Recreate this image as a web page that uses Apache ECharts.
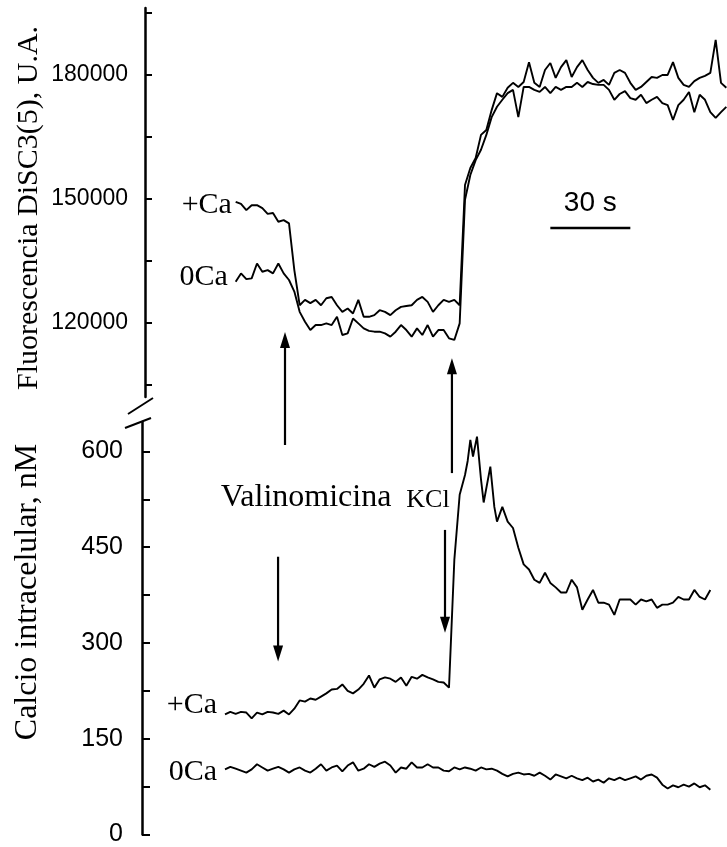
<!DOCTYPE html>
<html><head><meta charset="utf-8">
<script src="https://cdn.jsdelivr.net/npm/echarts@6/dist/echarts.min.js"></script>
<style>html,body{margin:0;padding:0;background:#fff}#c{width:727px;height:847px}</style>
</head><body><div id="c"></div>
<script>
// ---------- DATA ----------
// time (s) for top panel traces
const timeTop = [34,36,38,40,42,44,46,48,50,52,54,56,58,60,62,64,66,68,70,72,74,76,78,80,82,84,86,88,90,92,94,96,98,100,102,104,106,108,110,112,114,116,118,120,122,124,126,128,130,132,134,136,138,140,142,144,146,148,150,152,154,156,158,160,162,164,166,168,170,172,174,176,178,180,182,184,186,188,190,192,194,196,198,200,202,204,206,208,210,212,214,216,218];
// Fluorescencia DiSC3(5), U.A.
const fluoCa = [149300,148800,147300,148500,148500,147800,146400,146600,144500,144900,144100,
 132800,124300,125600,124800,125600,124300,126000,126300,124300,122700,123500,122300,125600,121500,121500,121900,123100,122700,121900,123100,123900,124100,124300,125600,126300,125100,122700,124300,125600,125100,125600,124300,
 153400,157500,159900,165500,166700,171500,175600,174700,176900,178100,177100,178300,183100,178100,177100,181200,182900,179300,181900,183600,179500,181900,183600,181200,179300,178100,178800,177600,180500,181200,180500,178100,176400,177100,178300,179500,179300,180000,180000,183100,179300,177600,177100,178500,179300,179800,180500,188500,178100,176900];
const fluo0Ca = [130000,132000,130600,130800,134400,132400,132800,132000,134400,132000,130400,
 127600,122700,120300,118300,119500,119500,119900,119500,121500,117100,117500,121100,119900,118700,118100,117900,117900,117500,116700,117900,119500,118300,116700,118700,117100,119500,116700,118300,118300,116300,115900,119900,
 149800,155800,159400,161900,165500,169800,172300,174000,175600,176400,169800,177100,177100,176400,175900,177100,175600,177100,176400,177100,177100,178100,177100,178300,177800,177600,177600,176400,174000,175400,176100,174400,174000,175200,173200,174000,174700,173200,172700,169100,172700,174000,175900,171000,175200,174000,171000,169600,171000,172300];
// time (s) for bottom panel traces
const timeCa = [30,32,34,36,38,40,42,44,46,48,50,52,54,56,58,60,62,64,66,68,70,72,74,76,78,80,82,84,86,88,90,92,94,96,98,100,102,104,106,108,110,112,114,
 116,118,120,121,122,123,124.5,126,127,129.5,131,132,134,136,138,140,142,144,146,148,150,152,154,156,158,160,162,164,166,168,170,172,174,176,178,180,182,184,186,188,190,192,194,196,198,200,202,204,206,208,210,212];
const time0Ca = [30,32,34,36,38,40,42,44,46,48,50,52,54,56,58,60,62,64,66,68,70,72,74,76,78,80,82,84,86,88,90,92,94,96,98,100,102,104,106,108,110,112,114,116,118,120,122,124,126,128,130,132,134,136,138,140,142,144,146,148,150,152,154,156,158,160,162,164,166,168,170,172,174,176,178,180,182,184,186,188,190,192,194,196,198,200,202,204,206,208,210,212];
// Calcio intracelular, nM
const calcCa = [188,192,189,192,191,182,191,188,192,191,189,194,188,197,210,208,213,211,216,221,227,228,235,225,221,227,236,249,230,243,246,244,239,246,233,247,244,250,246,243,239,238,230,
 430,532,563,585,618,592,623,556,520,576,513,490,513,490,480,449,423,415,399,394,410,394,387,379,379,399,387,352,368,383,363,363,360,344,368,368,368,360,368,365,368,355,360,360,363,372,368,368,383,372,368,383];
const calc0Ca = [102,106,103,100,97,102,110,105,100,103,106,102,97,102,105,100,97,103,110,100,105,108,99,108,113,100,103,110,106,111,114,108,97,105,103,113,105,105,110,105,105,100,99,105,102,105,103,100,105,102,103,100,95,91,95,97,94,95,92,97,92,86,94,91,88,92,88,85,89,83,86,81,88,85,89,85,88,91,86,92,94,89,78,72,77,74,78,75,80,74,77,70];
// axis ticks / labels
const topTicks = [105000,120000,135000,150000,165000,180000,195000];
const topLabels = [120000,150000,180000];
const botTicks = [0,75,150,225,300,375,450,525,600];
const botLabels = [0,150,300,450,600];
// scale bar (30 s)
const scaleBarT = [152,182];
const scaleBarV = 143000;

// ---------- CHART ----------
const serif = '"Liberation Serif","Times New Roman",serif';
const sans = '"Liberation Sans",Arial,sans-serif';
const zip = (xs, ys) => ys.map((v, i) => [xs[i], v]);
const lineSeries = (name, xi, data) => ({
  name, type: 'line', xAxisIndex: xi, yAxisIndex: xi, data,
  showSymbol: false, symbol: 'none', clip: false, animation: false,
  lineStyle: { color: '#000', width: 1.9 }
});
const chart = echarts.init(document.getElementById('c'));
const yBase = {
  type: 'value', splitLine: { show: false },
  axisLine: { show: true, onZero: false, lineStyle: { color: '#000', width: 2.5 } }
};
chart.setOption({
  backgroundColor: '#fff',
  animation: false,
  grid: [
    { left: 145, width: 582, top: 8, height: 389 },
    { left: 145, width: 582, top: 422, height: 413 }
  ],
  xAxis: [
    { gridIndex: 0, type: 'value', min: 0, max: 218.25, show: false },
    { gridIndex: 1, type: 'value', min: 0, max: 218.25, show: false }
  ],
  yAxis: [
    Object.assign({}, yBase, {
      gridIndex: 0, min: 102100, max: 196200,
      axisTick: { show: true, inside: true, length: 7, customValues: topTicks, lineStyle: { color: '#000', width: 2 } },
      axisLabel: { customValues: topLabels, formatter: v => String(v), color: '#000', fontSize: 23, fontFamily: sans, margin: 17 }
    }),
    Object.assign({}, yBase, {
      gridIndex: 1, min: 0, max: 646, offset: 3,
      axisTick: { show: true, inside: true, length: 8, customValues: botTicks, lineStyle: { color: '#000', width: 2 } },
      axisLabel: { customValues: botLabels, formatter: v => String(v), color: '#000', fontSize: 25, fontFamily: sans, margin: 19 }
    })
  ],
  series: [
    lineSeries('+Ca fluorescencia', 0, zip(timeTop, fluoCa)),
    lineSeries('0Ca fluorescencia', 0, zip(timeTop, fluo0Ca)),
    lineSeries('+Ca calcio', 1, zip(timeCa, calcCa)),
    lineSeries('0Ca calcio', 1, zip(time0Ca, calc0Ca)),
    Object.assign(lineSeries('30 s', 0, scaleBarT.map(t => [t, scaleBarV])), { lineStyle: { color: '#000', width: 2.5 } })
  ]
});

// ---------- ANNOTATIONS ----------
const P = (g, t, v) => chart.convertToPixel({ gridIndex: g }, [t, v]);
const G = [];
function text(x, y, str, size, family, align, rot) {
  G.push({ type: 'text', x, y, rotation: rot || 0, silent: true,
    style: { text: str, fontSize: size, fontFamily: family, fill: '#000', align: align || 'center', verticalAlign: 'middle' } });
}
function arrow(x, y0, y1) {
  const dir = Math.sign(y1 - y0), hl = 16, hw = 5, yb = y1 - dir * hl;
  G.push({ type: 'line', silent: true, shape: { x1: x, y1: y0, x2: x, y2: yb + dir * 2 }, style: { stroke: '#000', lineWidth: 2.2 } });
  G.push({ type: 'polygon', silent: true, shape: { points: [[x, y1], [x - hw, yb], [x + hw, yb]] }, style: { fill: '#000' } });
}
// arrows: Valinomicina & KCl (top: up, bottom: down)
let a = P(1, 52.5, 610), b = P(0, 52.5, 117800); arrow(a[0], a[1], b[1]);
a = P(1, 115.1, 566); b = P(0, 115.1, 111500); arrow(a[0], a[1], b[1]);
a = P(1, 49.9, 435); b = P(1, 49.9, 271); arrow(a[0], a[1], b[1]);
a = P(1, 112.5, 477); b = P(1, 112.5, 316); arrow(a[0], a[1], b[1]);
// labels
let p = P(1, 60.4, 527); text(p[0], p[1], 'Valinomicina', 32, serif);
p = P(1, 106.1, 524); text(p[0], p[1], 'KCl', 26, serif);
p = P(0, 32.6, 148540); text(p[0], p[1], '+Ca', 30, serif, 'right');
p = P(0, 31.1, 131100); text(p[0], p[1], '0Ca', 30, serif, 'right');
p = P(1, 27, 203); text(p[0], p[1], '+Ca', 30, serif, 'right');
p = P(1, 27, 97); text(p[0], p[1], '0Ca', 30, serif, 'right');
p = P(0, 167, 149000); text(p[0], p[1], '30 s', 28, sans);
// axis titles
text(29, 208, 'Fluorescencia DiSC3(5), U.A.', 30, serif, 'center', Math.PI / 2);
text(28, 592, 'Calcio intracelular, nM', 32, serif, 'center', Math.PI / 2);
// axis break marks
const ax = P(0, 0, 102100)[0];
const yTopEnd = P(0, 0, 102100)[1], yBotStart = P(1, 0, 646)[1];
G.push({ type: 'line', silent: true, shape: { x1: ax - 17, y1: yTopEnd + 17, x2: ax + 8, y2: yTopEnd + 1 }, style: { stroke: '#000', lineWidth: 2 } });
G.push({ type: 'line', silent: true, shape: { x1: ax - 20, y1: yBotStart + 6, x2: ax + 6, y2: yBotStart - 4 }, style: { stroke: '#000', lineWidth: 2 } });
chart.setOption({ graphic: G });
</script></body></html>
